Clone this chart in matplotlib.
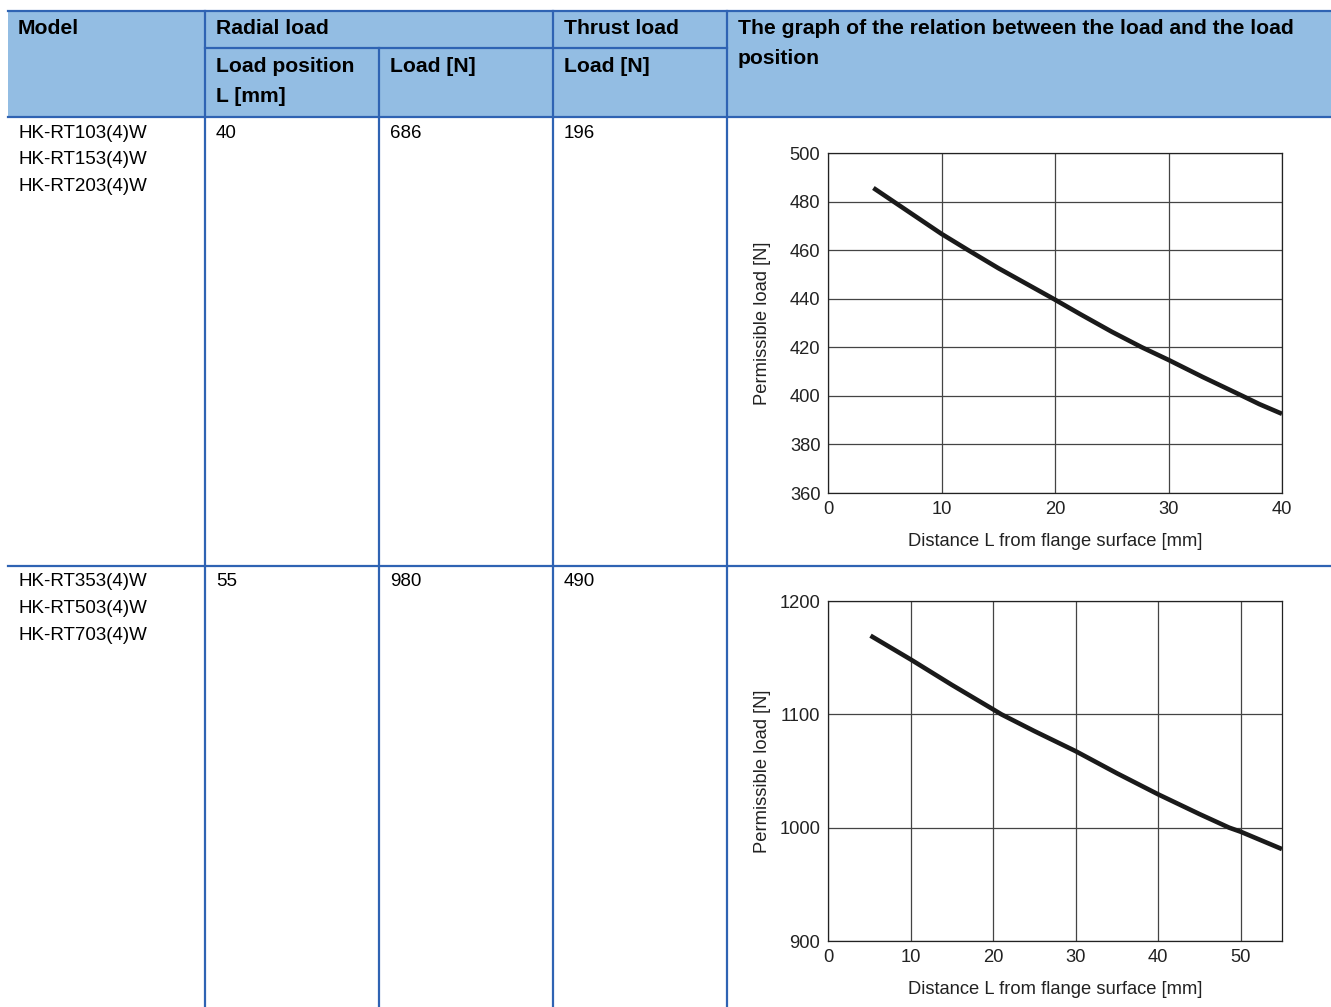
import matplotlib
matplotlib.use("Agg")
import matplotlib.pyplot as plt

plt.rcParams['font.family'] = ['Liberation Sans', 'DejaVu Sans']

# table contents
header_top = [["Model"], ["Radial load"], ["Thrust load"],
              ["The graph of the relation between the load and the load", "position"]]
header_sub = [["Load position", "L [mm]"], ["Load [N]"], ["Load [N]"]]
models = [["HK-RT103(4)W", "HK-RT153(4)W", "HK-RT203(4)W"],
          ["HK-RT353(4)W", "HK-RT503(4)W", "HK-RT703(4)W"]]
load_pos = ["40", "55"]
radial_load = ["686", "980"]
thrust_load = ["196", "490"]

# curves
dist1 = [4.0, 10, 12.35, 15, 19.85, 22.2, 25, 27.65, 30, 33, 36.5, 38, 40]
load1 = [485.6, 466.7, 460, 452.6, 440, 433.7, 426.4, 420, 414.8, 407.8, 400, 396.6, 392.6]
dist2 = [5.15, 10, 15, 20, 21, 25, 30, 35, 40, 45, 48.6, 50, 55]
load2 = [1169.4, 1148.5, 1126, 1104.4, 1100, 1085.2, 1067.5, 1048, 1029.4, 1012, 1000, 996.4, 981.1]

W, H = 1331, 1007
fig = plt.figure(figsize=(W / 100, H / 100), dpi=100)

bg = fig.add_axes([0, 0, 1, 1])
bg.set_xlim(0, W)
bg.set_ylim(H, 0)
bg.axis('off')

head_col = '#93bde3'
line_col = '#2f63b3'

bg.fill_between([8, W], 11, 117, color=head_col, lw=0)
lkw = dict(color=line_col, lw=1.6)
bg.plot([8, W], [11, 11], **lkw)
bg.plot([205, 727], [48, 48], **lkw)
bg.plot([8, W], [117, 117], **lkw)
bg.plot([8, W], [566, 566], **lkw)
bg.plot([205, 205], [11, H], **lkw)
bg.plot([379, 379], [48, H], **lkw)
bg.plot([553, 553], [11, H], **lkw)
bg.plot([727, 727], [11, H], **lkw)

hkw = dict(fontsize=15.2, fontweight='bold', va='center', ha='left')
for xh, lines in zip([18, 216, 564, 738], header_top):
    for k, t in enumerate(lines):
        bg.text(xh, 28 + k * 30, t, **hkw)
for xh, lines in zip([216, 390, 564], header_sub):
    for k, t in enumerate(lines):
        bg.text(xh, 67 + k * 29, t, **hkw)

tkw = dict(fontsize=13.5, va='center', ha='left')
for r, y0 in enumerate([133, 582]):
    for i, m in enumerate(models[r]):
        bg.text(18, y0 + i * 26.8, m, **tkw)
    bg.text(216, y0, load_pos[r], **tkw)
    bg.text(390, y0, radial_load[r], **tkw)
    bg.text(564, y0, thrust_load[r], **tkw)


def make_chart(top, xs, ys, xmax, ylim, yticks):
    ax = fig.add_axes([828 / W, 1 - (top + 340) / H, 454 / W, 340 / H])
    ax.plot(xs, ys, color='#1a1a1a', lw=3.3, solid_capstyle='butt')
    ax.set_xlim(0, xmax)
    ax.set_ylim(*ylim)
    ax.set_xticks(range(0, xmax + 1, 10))
    ax.set_yticks(yticks)
    ax.grid(True, color='#444444', lw=0.9)
    ax.set_axisbelow(True)
    for s in ax.spines.values():
        s.set_color('#222222')
        s.set_linewidth(0.9)
    ax.tick_params(length=0, labelsize=13.2, colors='#222222', pad=5.5)
    ax.set_xlabel('Distance L from flange surface [mm]', fontsize=13.2, color='#222222')
    ax.set_ylabel('Permissible load [N]', fontsize=13.2, color='#222222')
    ax.xaxis.set_label_coords(0.5, -0.118)
    ax.yaxis.set_label_coords(-0.125, 0.5)
    return ax


make_chart(153, dist1, load1, 40, (360, 500), range(360, 501, 20))
make_chart(601, dist2, load2, 55, (900, 1200), range(900, 1201, 100))

fig.savefig('out.png', dpi=100)
